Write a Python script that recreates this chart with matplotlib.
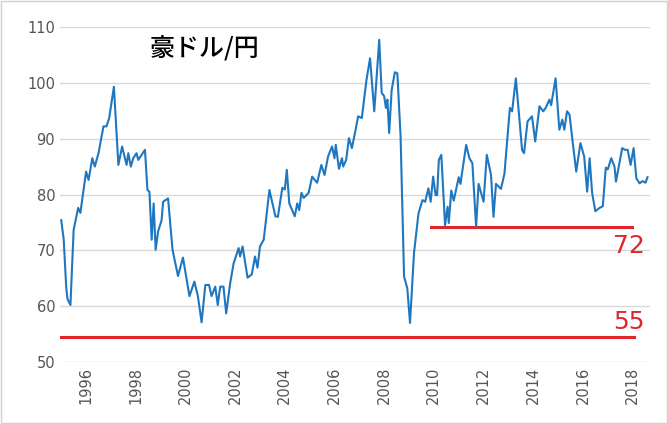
import matplotlib
matplotlib.use("Agg")
import matplotlib.pyplot as plt

dates = [1995.0,1995.1,1995.2,1995.25,1995.37,1995.5,1995.68,1995.77,1996.0,1996.1,1996.25,1996.35,1996.5,1996.7,1996.82,1996.93,1997.12,1997.3,1997.45,1997.63,1997.7,1997.8,1997.9,1998.03,1998.1,1998.37,1998.47,1998.55,1998.64,1998.72,1998.8,1998.9,1999.04,1999.1,1999.3,1999.48,1999.7,1999.9,2000.16,2000.36,2000.5,2000.65,2000.8,2000.95,2001.05,2001.2,2001.3,2001.4,2001.53,2001.64,2001.8,2001.94,2002.14,2002.2,2002.3,2002.5,2002.67,2002.8,2002.9,2003.0,2003.15,2003.38,2003.62,2003.72,2003.9,2004.0,2004.08,2004.18,2004.4,2004.5,2004.58,2004.67,2004.76,2004.96,2005.1,2005.3,2005.47,2005.6,2005.74,2005.9,2006.0,2006.05,2006.18,2006.3,2006.35,2006.47,2006.58,2006.7,2006.85,2006.95,2007.1,2007.28,2007.43,2007.6,2007.8,2007.9,2008.0,2008.07,2008.13,2008.2,2008.3,2008.43,2008.53,2008.66,2008.8,2008.93,2009.04,2009.2,2009.38,2009.54,2009.65,2009.78,2009.87,2009.97,2010.07,2010.13,2010.2,2010.3,2010.45,2010.55,2010.6,2010.7,2010.8,2011.0,2011.07,2011.3,2011.43,2011.55,2011.7,2011.8,2012.0,2012.13,2012.3,2012.4,2012.5,2012.7,2012.84,2013.06,2013.15,2013.3,2013.55,2013.63,2013.77,2013.95,2014.08,2014.25,2014.4,2014.5,2014.65,2014.72,2014.9,2015.05,2015.17,2015.25,2015.36,2015.46,2015.6,2015.73,2015.9,2016.05,2016.17,2016.27,2016.37,2016.5,2016.67,2016.8,2016.92,2017.0,2017.14,2017.27,2017.33,2017.58,2017.7,2017.8,2017.92,2018.04,2018.15,2018.28,2018.4,2018.52,2018.6]
values = [75.4,71.9,63.4,61.3,60.2,73.7,77.6,76.7,84.1,82.6,86.5,85.0,87.4,92.2,92.2,93.7,99.3,85.3,88.6,85.3,87.4,85.0,86.5,87.4,86.2,88.0,80.8,80.5,71.9,78.4,70.1,73.4,75.4,78.7,79.3,70.1,65.4,68.7,61.8,64.4,61.8,57.1,63.8,63.8,61.8,63.5,60.2,63.5,63.5,58.7,64.1,67.7,70.4,68.9,70.7,65.1,65.7,68.9,66.9,70.7,71.9,80.8,76.1,76.0,81.2,80.9,84.4,78.4,76.1,78.4,77.2,80.3,79.4,80.3,83.2,82.1,85.3,83.5,86.8,88.6,86.5,88.9,84.6,86.5,85.0,86.2,90.1,88.3,91.6,94.0,93.7,100.3,104.4,94.9,107.7,98.2,97.6,95.5,97.0,91.0,98.7,101.9,101.7,90.4,65.3,63.2,57.0,69.5,76.6,79.0,78.7,81.1,78.7,83.2,79.9,79.9,86.2,87.1,74.5,77.8,74.9,80.7,78.9,83.1,81.9,88.9,86.5,85.6,74.2,81.9,78.7,87.1,83.5,76.0,81.9,81.0,83.7,95.5,94.9,100.8,88.0,87.4,93.1,94.0,89.5,95.8,94.9,95.5,97.0,96.0,100.8,91.6,93.4,91.6,94.9,94.3,88.9,84.1,89.2,86.8,80.5,86.5,80.3,77.0,77.6,77.9,84.8,84.5,86.5,85.0,82.3,88.3,88.0,88.0,85.3,88.3,82.9,82.0,82.4,82.1,83.1]

support_levels = [54.5, 74.2]
support_labels = ["55", "72"]
support_spans = [(1994.95, 2018.05), (2009.87, 2017.96)]
xticks = list(range(1996, 2019, 2))
yticks = list(range(50, 111, 10))
title = "豪ドル/円"

fig = plt.figure(figsize=(6.68, 4.24), dpi=100)
ax = fig.add_axes([60/668, 1-362/424, 590/668, 335/424])
ax.plot(dates, values, color="#1f77c0", lw=1.5, zorder=3)
for lvl, (a, b) in zip(support_levels, support_spans):
    ax.plot([a, b], [lvl, lvl], color="#e0262a", lw=2.2, zorder=2)
ax.text(2018.5, 74.2 - 1.2, support_labels[1], color="#e0262a", fontsize=18, ha="right", va="top")
ax.text(2018.5, 54.5 + 0.5, support_labels[0], color="#e0262a", fontsize=18, ha="right", va="bottom")
ax.set_xlim(1994.95, 2018.7)
ax.set_ylim(50, 110)
ax.set_yticks(yticks)
ax.set_xticks(xticks)
ax.set_xticklabels([str(t) for t in xticks], rotation=90)
ax.tick_params(length=0, labelsize=10.5, colors="#555555")
ax.grid(axis="y", color="#d9d9d9", lw=1)
for s in ax.spines.values():
    s.set_visible(False)
ax.text(1998.55, 106.0, title, fontsize=18, fontfamily="Noto Sans CJK JP", fontweight="medium", va="center")
fig.patches.append(plt.Rectangle((0.002, 0.002), 0.996, 0.996, transform=fig.transFigure, fill=False, ec="#d0d0d0", lw=1))
fig.savefig("out.png", dpi=100)
